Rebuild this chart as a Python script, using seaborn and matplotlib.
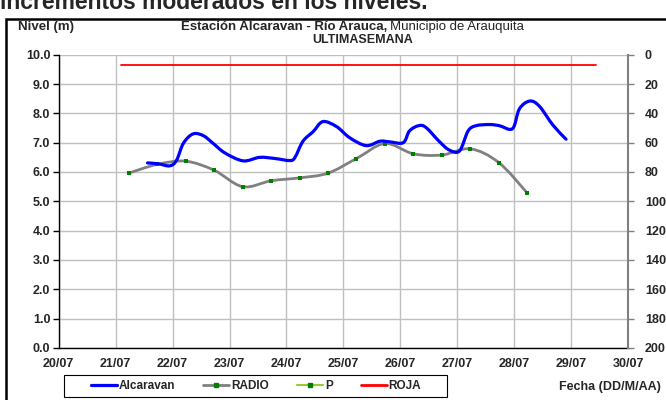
import numpy as np
import matplotlib
matplotlib.use("Agg")
import matplotlib.pyplot as plt
from matplotlib.path import Path
from matplotlib.patches import PathPatch, Rectangle
from matplotlib.lines import Line2D
import seaborn as sns

sns.set_style("white")
plt.rcParams["font.family"] = ["Liberation Sans", "DejaVu Sans"]

# days counted from 20/07 00:00
fechas = ["20/07", "21/07", "22/07", "23/07", "24/07", "25/07",
          "26/07", "27/07", "28/07", "29/07", "30/07"]

alc_dia = [1.56, 1.75, 1.95, 2.07, 2.19, 2.36, 2.54, 2.71, 2.92, 3.24, 3.53,
           3.80, 4.06, 4.15, 4.29, 4.47, 4.64, 4.88, 5.11, 5.40, 5.64, 5.81,
           6.05, 6.16, 6.32, 6.45, 6.69, 6.86, 7.04, 7.19, 7.33, 7.57, 7.74,
           7.97, 8.09, 8.27, 8.44, 8.68, 8.91]
alc_nivel = [6.31, 6.28, 6.21, 6.40, 6.98, 7.30, 7.24, 6.98, 6.65, 6.38, 6.50,
             6.46, 6.39, 6.50, 7.05, 7.38, 7.72, 7.55, 7.17, 6.90, 7.05, 7.03,
             7.00, 7.40, 7.58, 7.52, 7.03, 6.75, 6.72, 7.40, 7.58, 7.62, 7.58,
             7.48, 8.15, 8.42, 8.25, 7.60, 7.12]

radio_dia = [1.23, 1.73, 2.23, 2.73, 3.23, 3.73, 4.23, 4.73, 5.23, 5.73,
             6.23, 6.73, 7.23, 7.73, 8.23]
radio_nivel = [5.96, 6.26, 6.37, 6.06, 5.50, 5.70, 5.80, 5.96, 6.46, 6.97,
               6.62, 6.58, 6.79, 6.32, 5.28]

p_dia = []
p_mm = []

roja_dia = [1.09, 9.44]
roja_nivel = [9.65, 9.65]


def smooth_path(xs, ys):
    # Excel-style smoothed line (Bezier through the points)
    pts = np.column_stack([xs, ys])
    verts = [pts[0]]
    codes = [Path.MOVETO]
    n = len(pts)
    for i in range(n - 1):
        p0 = pts[max(i - 1, 0)]
        p1 = pts[i]
        p2 = pts[i + 1]
        p3 = pts[min(i + 2, n - 1)]
        c1 = p1 + (p2 - p0) / 6.0
        c2 = p2 - (p3 - p1) / 6.0
        verts += [c1, c2, p2]
        codes += [Path.CURVE4] * 3
    return Path(verts, codes)


fig = plt.figure(figsize=(6.66, 4.0), dpi=100)
ax = fig.add_axes([0.0881, 0.1305, 0.855, 0.7325])
ax2 = ax.twinx()

grid_c = "#c0c0c0"
ax.set_xlim(0, 10)
ax.set_ylim(0, 10)
ax.set_xticks(range(11))
ax.set_xticklabels(fechas)
ax.set_yticks(np.arange(0, 10.5, 1.0))
ax.set_yticklabels([f"{v:.1f}" for v in np.arange(0, 10.5, 1.0)])
ax.grid(True, color=grid_c, lw=1.0)
ax.set_axisbelow(True)

ax2.set_ylim(200, 0)
ax2.set_yticks(range(0, 201, 20))

for s in ["top", "right"]:
    ax.spines[s].set_visible(False)
for s in ["top", "left", "bottom"]:
    ax2.spines[s].set_visible(False)
ax.spines["left"].set_color("black")
ax.spines["bottom"].set_color("black")
ax.spines["left"].set_linewidth(1.0)
ax.spines["bottom"].set_linewidth(1.0)
ax2.spines["right"].set_color("#808080")
ax2.spines["right"].set_linewidth(1.5)

ax.tick_params(axis="y", direction="out", length=4, width=1, color="black", pad=2, labelsize=9)
ax.tick_params(axis="x", direction="inout", length=6, width=1, color="black", pad=4, labelsize=9)
ax2.tick_params(axis="y", direction="out", length=4, width=1, color="#808080", pad=8, labelsize=9)
for lab in ax.get_xticklabels() + ax.get_yticklabels() + ax2.get_yticklabels():
    lab.set_fontweight("bold")

# ROJA threshold
sns.lineplot(x=roja_dia, y=roja_nivel, ax=ax, color="#ff0000", lw=1.3, zorder=3)

# RADIO smoothed line + markers
ax.add_patch(PathPatch(smooth_path(radio_dia, radio_nivel), fill=False,
                       edgecolor="#808080", lw=2.0, zorder=4, capstyle="round"))
sns.scatterplot(x=radio_dia, y=radio_nivel, ax=ax, color="#008000", marker="s",
                s=5, linewidth=0, zorder=5)

# Alcaravan smoothed line
ax.add_patch(PathPatch(smooth_path(alc_dia, alc_nivel), fill=False,
                       edgecolor="#0000ff", lw=2.3, zorder=6, capstyle="round"))

# P (precipitation, right axis) - no values in this week
ax2.plot(p_dia, p_mm, color="#99cc33", lw=1.5)

# texts
fig.text(0.0, 1 - 9 / 400, "incrementos moderados en los niveles.",
         fontsize=16.5, fontweight="bold", va="baseline", ha="left")
fig.text(18 / 666, 1 - 30 / 400, "Nivel (m)", fontsize=9.5, fontweight="bold",
         va="baseline", ha="left")
fig.text(387 / 666, 1 - 30 / 400, "Estación Alcaravan - Río Arauca,", fontsize=9.5,
         fontweight="bold", va="baseline", ha="right")
fig.text(390 / 666, 1 - 30 / 400, "Municipio de Arauquita", fontsize=9.5,
         va="baseline", ha="left")
fig.text(363 / 666, 1 - 43 / 400, "ULTIMASEMANA", fontsize=9, fontweight="bold",
         va="baseline", ha="center")
fig.text(661 / 666, 1 - 390 / 400, "Fecha (DD/M/AA)", fontsize=9,
         fontweight="bold", va="baseline", ha="right")

# outer chart frame
fig.patches.append(Rectangle((6 / 666, -0.05), 1.2, 1 - 19 / 400 + 0.05,
                             transform=fig.transFigure, fill=False,
                             edgecolor="black", lw=1.8))
# legend box
fig.patches.append(Rectangle((64 / 666, 1 - 397 / 400), 383 / 666, 22 / 400,
                             transform=fig.transFigure, fill=False,
                             edgecolor="black", lw=0.8))

handles = [
    Line2D([], [], color="#0000ff", lw=2.3),
    Line2D([], [], color="#808080", lw=2.0, marker="s", ms=2.5,
           mfc="#008000", mec="#008000"),
    Line2D([], [], color="#99cc33", lw=1.5, marker="s", ms=2.5,
           mfc="#008000", mec="#008000"),
    Line2D([], [], color="#ff0000", lw=2.0),
]
leg = fig.legend(handles, ["Alcaravan", "RADIO", "P", "ROJA"], ncol=4,
                 loc="center", bbox_to_anchor=(256 / 666, 1 - 386 / 400),
                 frameon=False, borderaxespad=0, handlelength=2.2,
                 handletextpad=0.15, columnspacing=2.4, borderpad=0.2,
                 prop={"size": 8.5, "weight": "bold"})

fig.savefig("out.png", dpi=100)
